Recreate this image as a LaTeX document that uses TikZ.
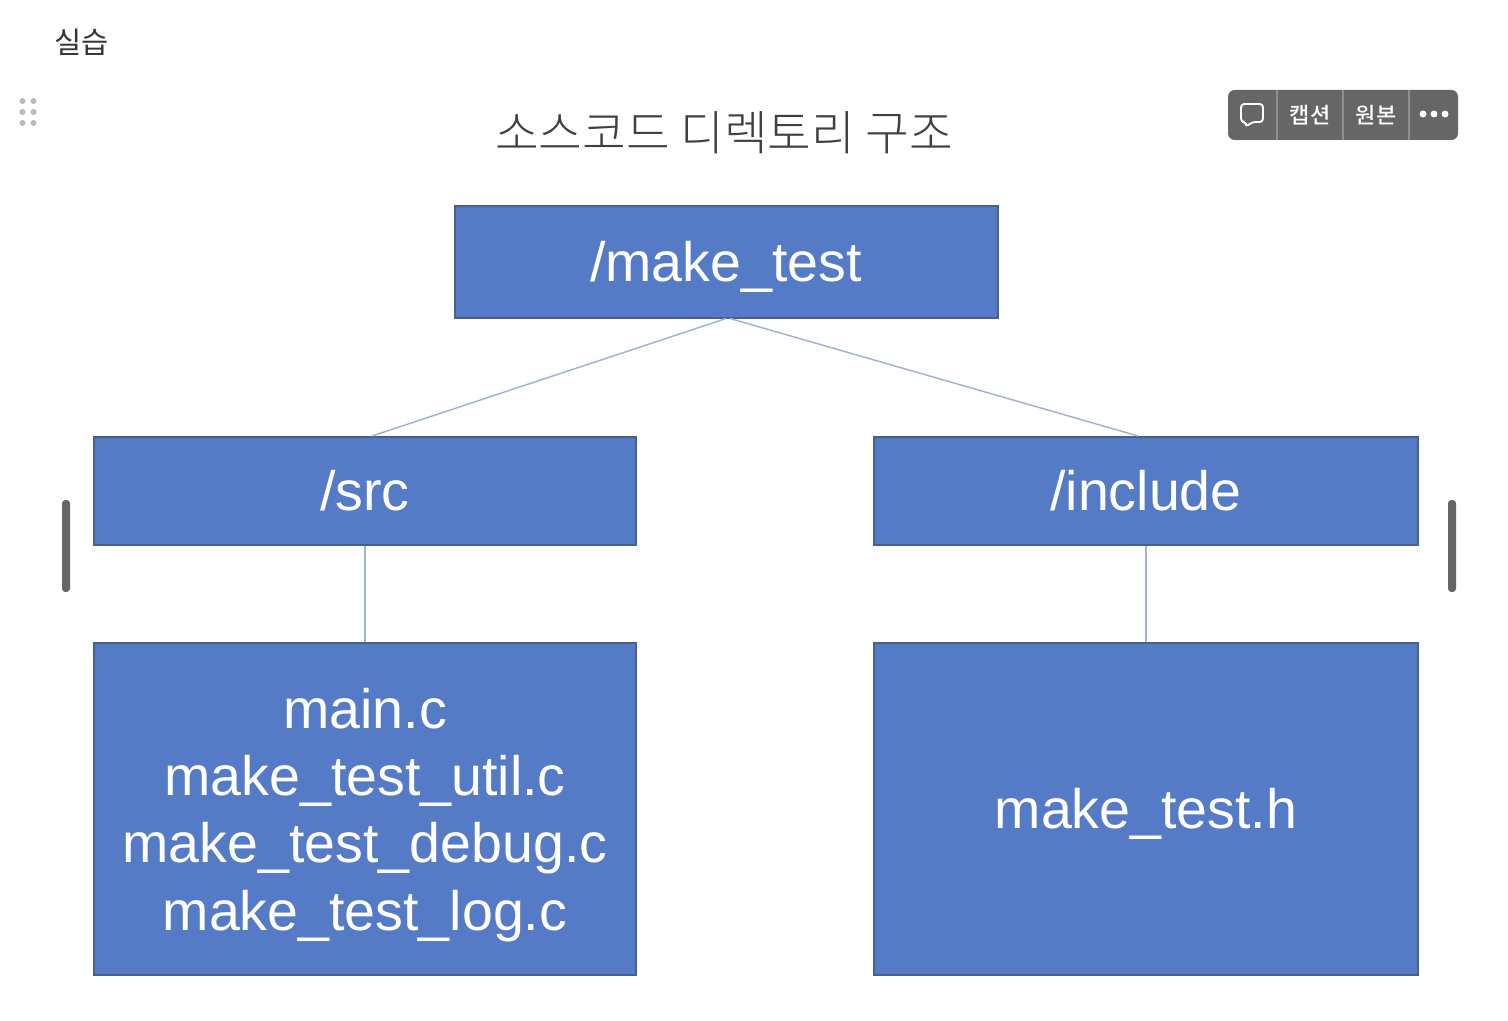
\documentclass[tikz,border=0pt]{standalone}
\usepackage{fontspec}
\setmainfont{Liberation Sans}
\newfontfamily\krfont{Noto Sans CJK KR}
\newfontfamily\krlight{Noto Sans CJK KR Light}
\newfontfamily\krmed{Noto Sans CJK KR Medium}
\definecolor{boxfill}{HTML}{557BC6}
\definecolor{boxline}{HTML}{45628F}
\definecolor{linkc}{HTML}{A3B2CF}
\definecolor{barc}{HTML}{666666}
\definecolor{sepc}{HTML}{8F8F8F}
\definecolor{dotc}{HTML}{BDBDBD}
\definecolor{inkc}{HTML}{37352F}
\newcommand{\us}{\smash{\_}}
\tikzset{
  x=0.75pt,y=-0.75pt,
  dirbox/.style={draw=boxline,line width=1.5pt,fill=boxfill,text=white,inner sep=0pt,
    font=\fontsize{41.65pt}{50.6pt}\selectfont,align=center},
  link/.style={draw=linkc,line width=1.1pt},
  grip/.style={circle,fill=dotc,draw=none,minimum size=4.6pt,inner sep=0pt},
  handle/.style={fill=barc,draw=none,rounded corners=2.5pt},
  tool/.style={text=white,inner sep=0pt,font=\krmed\fontsize{16.5pt}{18pt}\selectfont},
  sep/.style={draw=sepc,line width=1pt},
  tdot/.style={circle,fill=white,draw=none,minimum size=5.2pt,inner sep=0pt}
}
\newcommand{\dirboxat}[6]{\node[dirbox,minimum width=#4*0.75pt,minimum height=#5*0.75pt] (#1) at (#2,#3) {#6};}
\begin{document}
\begin{tikzpicture}
\useasboundingbox[fill=white] (0,0) rectangle (1508,1020);
\node[anchor=center,inner sep=0pt,text=inkc,font=\krfont\fontsize{22.2pt}{26pt}\selectfont] (heading) at (81.5,42) {실습};
\foreach \n/\px/\py in {g1/22.5/101,g2/33.5/101,g3/22.5/112,g4/33.5/112,g5/22.5/123,g6/33.5/123}
  \node[grip] (\n) at (\px,\py) {};
\node[inner sep=0pt,text=black!75,font=\krlight\fontsize{35.6pt}{40pt}\selectfont] (title) at (724,133) {소스코드 디렉토리 구조};
\dirboxat{root}{726}{262}{543}{112}{/make\us test}
\dirboxat{src}{365}{491}{542}{108}{/src}
\dirboxat{inc}{1146}{491}{544}{108}{/include}
\dirboxat{srcfiles}{365}{809}{542}{332}{\rule{0pt}{39pt}main.c\\make\us test\us util.c\\make\us test\us debug.c\\make\us test\us log.c}
\dirboxat{incfiles}{1146}{809}{544}{332}{make\us test.h}
\coordinate (rootL) at (726,318.5);
\coordinate (rootR) at (730,318.5);
\coordinate (srcT) at (372,436);
\coordinate (incT) at (1138,436);
\draw[link] (rootL) -- (srcT);
\draw[link] (rootR) -- (incT);
\draw[link] (src.south) -- (srcfiles.north);
\draw[link] (inc.south) -- (incfiles.north);
\node[handle,minimum width=6pt,minimum height=69pt,inner sep=0pt] (leftbar) at (66,546) {};
\node[handle,minimum width=6pt,minimum height=69pt,inner sep=0pt] (rightbar) at (1452,546) {};
\node[fill=barc,rounded corners=5pt,minimum width=172.5pt,minimum height=37.5pt,inner sep=0pt] (toolbar) at (1343,115) {};
\coordinate (s1t) at (1277,90); \coordinate (s1b) at (1277,140);
\coordinate (s2t) at (1343,90); \coordinate (s2b) at (1343,140);
\coordinate (s3t) at (1409,90); \coordinate (s3b) at (1409,140);
\draw[sep] (s1t) -- (s1b);
\draw[sep] (s2t) -- (s2b);
\draw[sep] (s3t) -- (s3b);
\node[tool] (caption) at (1310,115) {캡션};
\node[tool] (orig) at (1376,115) {원본};
\node[tdot] (d1) at (1423,114) {};
\node[tdot] (d2) at (1434,114) {};
\node[tdot] (d3) at (1445,114) {};
\draw[white,line width=1.4pt,line join=round,rounded corners=2.5pt]
  (1241,104) -- (1263,104) -- (1263,122) -- (1252,122) -- (1246,127) -- (1246,122) -- (1241,122) -- cycle;
\end{tikzpicture}
\end{document}
